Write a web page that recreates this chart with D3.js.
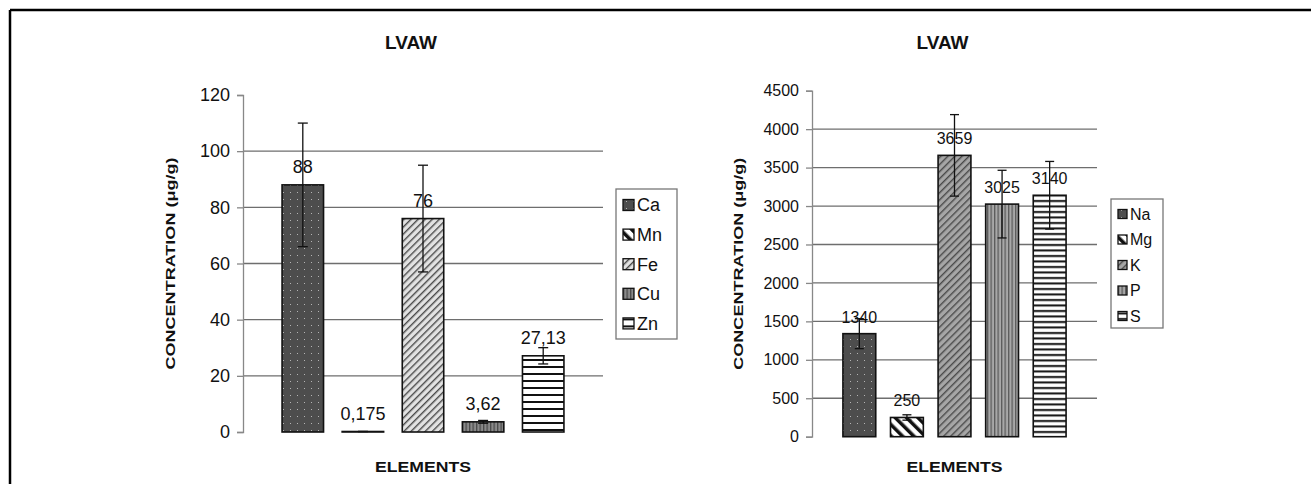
<!DOCTYPE html>
<html>
<head>
<meta charset="utf-8">
<script src="https://cdn.jsdelivr.net/npm/d3@7"></script>
<style>
  body { margin: 0; background: #fff; }
  text { font-family: "Liberation Sans", Arial, sans-serif; fill: #111; }
</style>
</head>
<body>
<div id="chart"></div>
<script>
// Data ////////////////////////////////////////////////////////////////

// left chart: trace elements
var leftElements = ["Ca", "Mn", "Fe", "Cu", "Zn"];
var leftValues = [88, 0.175, 76, 3.62, 27.13];
var leftErrors = [22, 0.05, 19, 0.5, 2.9];
var leftTicks = [0, 20, 40, 60, 80, 100, 120];

// right chart: major elements
var rightElements = ["Na", "Mg", "K", "P", "S"];
var rightValues = [1340, 250, 3659, 3025, 3140];
var rightErrors = [195, 35, 530, 440, 440];
var rightTicks = [0, 500, 1000, 1500, 2000, 2500, 3000, 3500, 4000, 4500];

// pattern per series position
var patternIds = ["dots", "bslash", "fslash", "vlines", "hlines"];

// SVG ////////////////////////////////////////////////////////////////

var svg = d3.select("#chart")
  .append("svg")
    .attr("width", 1311)
    .attr("height", 484);

svg.append("rect").attr("width", 1311).attr("height", 484).attr("fill", "#fff");

var defs = svg.append("defs");

// patterns, one set per chart (the scan renders them a bit differently)
function makePatterns(prefix, fsBg, fsLine, vBg, vLine, hGap) {
  var pDots = defs.append("pattern").attr("id", prefix + "dots")
    .attr("patternUnits", "userSpaceOnUse").attr("width", 7).attr("height", 7);
  pDots.append("rect").attr("width", 7).attr("height", 7).attr("fill", "#4d4d4d");
  pDots.append("rect").attr("x", 3).attr("y", 3).attr("width", 1).attr("height", 1).attr("fill", "#b5b5b5");

  var pB = defs.append("pattern").attr("id", prefix + "bslash")
    .attr("patternUnits", "userSpaceOnUse").attr("width", 8).attr("height", 8)
    .attr("patternTransform", "rotate(-45)");
  pB.append("rect").attr("width", 8).attr("height", 8).attr("fill", "#fff");
  pB.append("rect").attr("width", 3.5).attr("height", 8).attr("fill", "#111");

  var pF = defs.append("pattern").attr("id", prefix + "fslash")
    .attr("patternUnits", "userSpaceOnUse").attr("width", 5).attr("height", 5)
    .attr("patternTransform", "rotate(45)");
  pF.append("rect").attr("width", 5).attr("height", 5).attr("fill", fsBg);
  pF.append("rect").attr("width", 1.4).attr("height", 5).attr("fill", fsLine);

  var pV = defs.append("pattern").attr("id", prefix + "vlines")
    .attr("patternUnits", "userSpaceOnUse").attr("width", 3.5).attr("height", 4);
  pV.append("rect").attr("width", 3.5).attr("height", 4).attr("fill", vBg);
  pV.append("rect").attr("width", 1.3).attr("height", 4).attr("fill", vLine);

  var pH = defs.append("pattern").attr("id", prefix + "hlines")
    .attr("patternUnits", "userSpaceOnUse").attr("width", 4).attr("height", hGap);
  pH.append("rect").attr("width", 4).attr("height", hGap).attr("fill", "#fff");
  pH.append("rect").attr("y", 2).attr("width", 4).attr("height", 2).attr("fill", "#111");
}
makePatterns("L", "#e2e2e2", "#4a4a4a", "#8a8a8a", "#4a4a4a", 7);
makePatterns("R", "#a6a6a6", "#4a4a4a", "#a8a8a8", "#5a5a5a", 5.5);

// frame (top and left edge of the scanned figure)
svg.append("line").attr("x1", 10).attr("y1", 10).attr("x2", 1311).attr("y2", 10)
  .attr("stroke", "#000").attr("stroke-width", 2.5);
svg.append("line").attr("x1", 10).attr("y1", 10).attr("x2", 10).attr("y2", 484)
  .attr("stroke", "#000").attr("stroke-width", 2.5);

// one chart ///////////////////////////////////////////////////////////

function drawChart(cfg) {
  var g = svg.append("g");
  var fill = function(d, i) { return "url(#" + cfg.prefix + patternIds[i] + ")"; };

  var x = d3.scaleBand()
    .domain(cfg.elements)
    .range([cfg.x0, cfg.x1])
    .paddingInner(0.31)
    .paddingOuter(0.65);

  var y = d3.scaleLinear()
    .domain([0, d3.max(cfg.ticks)])
    .range([cfg.y0, cfg.y1]);

  // gridlines (not at 0 and not at the top)
  g.append("g")
    .selectAll("line")
    .data(cfg.ticks.slice(1, -1))
    .enter().append("line")
      .attr("x1", cfg.x0).attr("x2", cfg.x1)
      .attr("y1", function(d) { return y(d); })
      .attr("y2", function(d) { return y(d); })
      .attr("stroke", "#6e6e6e")
      .attr("stroke-width", 1.3);

  // y axis
  var axis = g.append("g")
    .attr("transform", "translate(" + cfg.x0 + ",0)")
    .call(d3.axisLeft(y).tickValues(cfg.ticks).tickSize(6).tickPadding(7)
      .tickFormat(d3.format("d")));
  axis.select(".domain").attr("stroke", "#888").attr("stroke-width", 1.3);
  axis.selectAll(".tick line").attr("stroke", "#888").attr("stroke-width", 1.3);
  axis.selectAll(".tick text")
    .style("font-family", "'Liberation Sans', Arial, sans-serif")
    .style("font-size", cfg.font + "px")
    .attr("fill", "#111");

  // bars
  g.append("g")
    .selectAll("rect")
    .data(cfg.values)
    .enter().append("rect")
      .attr("x", function(d, i) { return x(cfg.elements[i]); })
      .attr("y", function(d) { return y(d); })
      .attr("width", x.bandwidth())
      .attr("height", function(d) { return y(0) - y(d); })
      .attr("fill", fill)
      .attr("stroke", "#111")
      .attr("stroke-width", 1.6);

  // data labels (error bars are drawn over them, as in the original)
  g.append("g")
    .selectAll("text")
    .data(cfg.values)
    .enter().append("text")
      .attr("x", function(d, i) { return x(cfg.elements[i]) + x.bandwidth() / 2; })
      .attr("y", function(d) { return y(d) - cfg.labelGap; })
      .attr("text-anchor", "middle")
      .style("font-size", cfg.font + "px")
      .text(function(d) { return String(d).replace(".", ","); });

  // error bars
  var err = g.append("g")
    .selectAll("g")
    .data(cfg.values)
    .enter().append("g")
      .attr("stroke", "#111")
      .attr("stroke-width", 1.3);
  err.append("line")
    .attr("x1", function(d, i) { return x(cfg.elements[i]) + x.bandwidth() / 2; })
    .attr("x2", function(d, i) { return x(cfg.elements[i]) + x.bandwidth() / 2; })
    .attr("y1", function(d, i) { return y(d + cfg.errors[i]); })
    .attr("y2", function(d, i) { return y(d - cfg.errors[i]); });
  [1, -1].forEach(function(s) {
    err.append("line")
      .attr("x1", function(d, i) { return x(cfg.elements[i]) + x.bandwidth() / 2 - cfg.cap; })
      .attr("x2", function(d, i) { return x(cfg.elements[i]) + x.bandwidth() / 2 + cfg.cap; })
      .attr("y1", function(d, i) { return y(d + s * cfg.errors[i]); })
      .attr("y2", function(d, i) { return y(d + s * cfg.errors[i]); });
  });

  // title
  g.append("text")
    .attr("x", (cfg.x0 + cfg.x1) / 2 - 12)
    .attr("y", 49)
    .attr("text-anchor", "middle")
    .style("font-size", "19px")
    .style("font-weight", "bold")
    .text("LVAW");

  // axis titles
  g.append("text")
    .attr("x", (cfg.x0 + cfg.x1) / 2)
    .attr("y", 472)
    .attr("text-anchor", "middle")
    .style("font-size", "15px")
    .style("font-weight", "bold")
    .attr("textLength", 96)
    .attr("lengthAdjust", "spacingAndGlyphs")
    .text("ELEMENTS");

  g.append("text")
    .attr("transform", "translate(" + cfg.yTitleX + "," + ((cfg.y0 + cfg.y1) / 2) + ") rotate(-90)")
    .attr("text-anchor", "middle")
    .style("font-size", "13px")
    .style("font-weight", "bold")
    .attr("textLength", 212)
    .attr("lengthAdjust", "spacingAndGlyphs")
    .text("CONCENTRATION (\u03bcg/g)");

  // legend
  var lg = g.append("g")
    .attr("transform", "translate(" + cfg.legend.x + "," + cfg.legend.y + ")");
  lg.append("rect")
    .attr("width", cfg.legend.w)
    .attr("height", cfg.legend.h)
    .attr("fill", "#fff")
    .attr("stroke", "#777")
    .attr("stroke-width", 1.3);
  var item = lg.selectAll(".item")
    .data(cfg.elements)
    .enter().append("g")
      .attr("class", "item")
      .attr("transform", function(d, i) {
        return "translate(7," + (cfg.legend.first + i * cfg.legend.step) + ")";
      });
  item.append("rect")
    .attr("x", 0)
    .attr("y", -cfg.legend.sw / 2)
    .attr("width", cfg.legend.sw)
    .attr("height", cfg.legend.sw)
    .attr("fill", fill)
    .attr("stroke", "#111")
    .attr("stroke-width", 1.3);
  item.append("text")
    .attr("x", cfg.legend.sw + 3)
    .attr("dy", "0.36em")
    .style("font-size", cfg.legend.font + "px")
    .text(function(d) { return d; });
}

drawChart({
  prefix: "L",
  elements: leftElements, values: leftValues, errors: leftErrors, ticks: leftTicks,
  x0: 243, x1: 603, y0: 432, y1: 95,
  font: 18, labelGap: 12, cap: 5, yTitleX: 175,
  legend: { x: 616, y: 189, w: 61, h: 150, first: 16, step: 29.6, sw: 11, font: 18 }
});

drawChart({
  prefix: "R",
  elements: rightElements, values: rightValues, errors: rightErrors, ticks: rightTicks,
  x0: 812, x1: 1097, y0: 436.7, y1: 90.7,
  font: 16, labelGap: 11, cap: 4.5, yTitleX: 743,
  legend: { x: 1111, y: 199, w: 52, h: 129, first: 15, step: 25.5, sw: 9, font: 16 }
});
</script>
</body>
</html>
